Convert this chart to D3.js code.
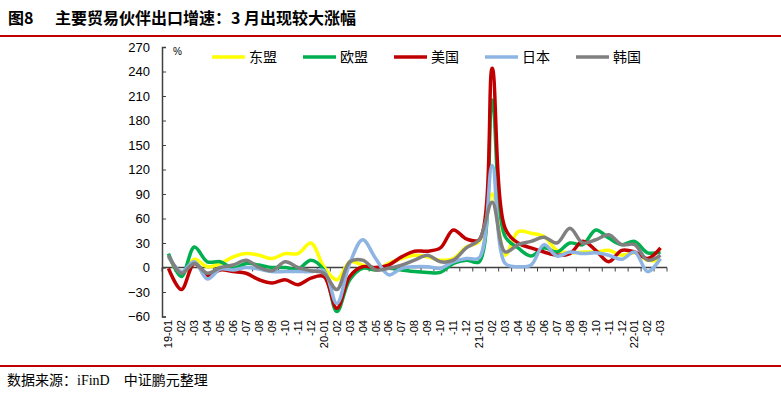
<!DOCTYPE html>
<html>
<head>
<meta charset="utf-8">
<script src="https://cdn.jsdelivr.net/npm/d3@7"></script>
<style>
  body { margin: 0; background: #fff; }
  svg { display: block; }
</style>
</head>
<body>
<div id="chart"></div>
<script>
"use strict";

// month labels 19-01 .. 22-03
const months = ["19-01","-02","-03","-04","-05","-06","-07","-08","-09","-10","-11","-12",
  "20-01","-02","-03","-04","-05","-06","-07","-08","-09","-10","-11","-12",
  "21-01","-02","-03","-04","-05","-06","-07","-08","-09","-10","-11","-12",
  "22-01","-02","-03"];

const yTicks = [-60, -30, 0, 30, 60, 90, 120, 150, 180, 210, 240, 270];

// series values (%)
const asean = [15, -9, 10, 1, 5, 13, 17, 15, 11, 17, 17, 30,
  1, -15, 7, 3, -3, 5, 11, 15, 13, 9, 11, 25,
  32, 90, 15, 44, 42, 38, 21, 18, 19, 19, 21, 15,
  18, 9, 9];
const eu = [17, -11, 25, 7, 7, -1, 5, 3, 0, 0, -2, 9,
  -3, -54, -15, -1, -3, -1, -3, -5, -6, -6, 5, 9,
  7, 205, 38, 24, 14, 24, 19, 30, 28, 46, 36, 28,
  32, 18, 19];
const us = [-1, -27, 5, -10, -3, -5, -7, -15, -19, -15, -21, -13,
  -11, -50, -11, 1, 0, 3, 13, 20, 20, 24, 46, 35,
  34, 244, 48, 30, 24, 19, 15, 17, 32, 21, 7, 21,
  19, 11, 24];
const japan = [13, -5, 7, -14, -2, -3, 0, -2, -5, -5, -5, -5,
  -4, -44, 5, 34, 11, -9, -1, 1, 1, -1, 7, 11,
  12, 125, 5, 1, 3, 28, 14, 19, 17, 18, 15, 10,
  19, -5, 11];
const korea = [15, -7, 5, -7, 0, 3, 9, 0, -4, 7, 0, -4,
  -7, -27, 7, 9, -3, -1, 3, 9, 15, 7, 9, 24,
  34, 80, 19, 28, 32, 37, 30, 48, 30, 34, 40, 28,
  28, 9, 15];

const seriesNames = ["东盟", "欧盟", "美国", "日本", "韩国"];
const seriesData = [asean, eu, us, japan, korea];
const seriesColors = ["#ffff00", "#00b050", "#c00000", "#8db4e2", "#808080"];

const W = 781, H = 394;
const plot = { left: 162, right: 667, top: 47, bottom: 316.5 };

const svg = d3.select("#chart").append("svg")
  .attr("width", W).attr("height", H);

// title
const title = svg.append("g")
  .attr("font-family", "'Noto Sans CJK SC', sans-serif")
  .attr("font-weight", "bold")
  .attr("font-size", 16)
  .attr("fill", "#000");
title.append("text").attr("x", 8).attr("y", 24).text("图8");
title.append("text").attr("x", 55).attr("y", 24).text("主要贸易伙伴出口增速：3 月出现较大涨幅");

svg.append("line")
  .attr("x1", 0).attr("x2", W).attr("y1", 36).attr("y2", 36)
  .attr("stroke", "#c00000").attr("stroke-width", 2);

svg.append("line")
  .attr("x1", 0).attr("x2", W).attr("y1", 366).attr("y2", 366)
  .attr("stroke", "#c00000").attr("stroke-width", 2);

// source
const src = svg.append("text")
  .attr("x", 7).attr("y", 385)
  .attr("font-family", "'Noto Sans CJK SC', sans-serif")
  .attr("font-size", 14)
  .attr("fill", "#000");
src.append("tspan").text("数据来源：");
src.append("tspan").attr("font-family", "'Liberation Serif', serif").text("iFinD");
src.append("tspan").attr("dx", 14).text("中证鹏元整理");

// scales
const x = d3.scaleBand()
  .domain(d3.range(months.length))
  .range([plot.left, plot.right]);

const y = d3.scaleLinear()
  .domain([-60, 270])
  .range([plot.bottom, plot.top]);

// y axis
const yAxis = svg.append("g")
  .attr("transform", "translate(" + plot.left + ",0)")
  .call(d3.axisRight(y).tickValues(yTicks).tickSize(4).tickFormat(d3.format("d")));
yAxis.select(".domain").attr("stroke", "#404040").attr("stroke-width", 1.5);
yAxis.selectAll(".tick line").attr("stroke", "#404040");
yAxis.selectAll(".tick text")
  .attr("x", -12)
  .attr("text-anchor", "end")
  .attr("font-family", "'Liberation Sans', Arial, sans-serif")
  .attr("font-size", 13)
  .attr("fill", "#000");

svg.append("text")
  .attr("x", 173).attr("y", 55)
  .attr("font-family", "'Liberation Sans', Arial, sans-serif")
  .attr("font-size", 10)
  .text("%");

// x axis along zero, ticks at category boundaries
const xAxisG = svg.append("g").attr("transform", "translate(0," + y(0) + ")");
xAxisG.append("line")
  .attr("x1", plot.left).attr("x2", plot.right)
  .attr("stroke", "#404040").attr("stroke-width", 1.5);
xAxisG.selectAll("line.tk")
  .data(d3.range(months.length + 1))
  .join("line")
  .attr("class", "tk")
  .attr("x1", d => plot.left + d * x.step())
  .attr("x2", d => plot.left + d * x.step())
  .attr("y1", 0).attr("y2", 4)
  .attr("stroke", "#404040");

// month labels, rotated
svg.append("g").selectAll("text")
  .data(months)
  .join("text")
  .attr("transform", (d, i) => "translate(" + (x(i) + x.bandwidth() / 2) + "," + 320 + ") rotate(-90)")
  .attr("text-anchor", "end")
  .attr("dy", "0.35em")
  .attr("font-family", "'Liberation Sans', Arial, sans-serif")
  .attr("font-size", 11)
  .attr("fill", "#000")
  .text(d => d);

// smoothed lines
const line = d3.line()
  .x((d, i) => x(i) + x.bandwidth() / 2)
  .y(d => y(d))
  .curve(d3.curveCatmullRom.alpha(0.5));

svg.append("g").selectAll("path")
  .data(seriesData)
  .join("path")
  .attr("d", d => line(d))
  .attr("fill", "none")
  .attr("stroke", (d, i) => seriesColors[i])
  .attr("stroke-width", 3.5)
  .attr("stroke-linejoin", "round");

// legend
const legendX = [212, 303, 394, 485, 576];
const legend = svg.append("g").selectAll("g")
  .data(seriesNames)
  .join("g")
  .attr("transform", (d, i) => "translate(" + legendX[i] + ",57)");
legend.append("line")
  .attr("x1", 0).attr("x2", 33)
  .attr("stroke", (d, i) => seriesColors[i])
  .attr("stroke-width", 3.5);
legend.append("text")
  .attr("x", 37).attr("dy", "0.35em")
  .attr("font-family", "'Noto Sans CJK SC', sans-serif")
  .attr("font-size", 14)
  .attr("fill", "#000")
  .text(d => d);
</script>
</body>
</html>
